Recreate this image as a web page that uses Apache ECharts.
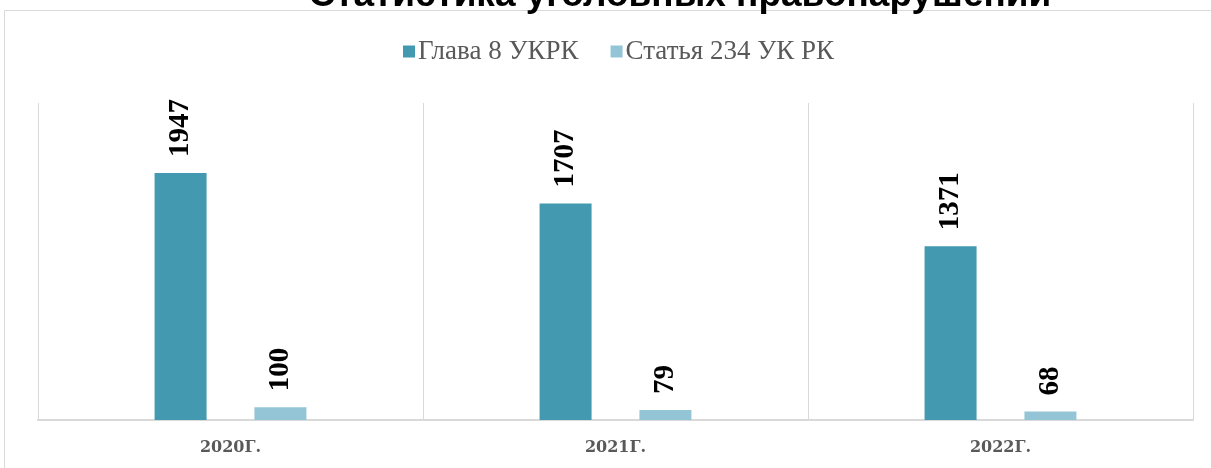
<!DOCTYPE html>
<html><head><meta charset="utf-8">
<script src="https://cdn.jsdelivr.net/npm/echarts@6/dist/echarts.min.js"></script>
<style>html,body{margin:0;padding:0;background:#fff}#c{width:1211px;height:468px}</style>
</head><body><div id="c"></div>
<script>
const titleText = "Статистика уголовных правонарушений";
const categories = ["2020Г.", "2021Г.", "2022Г."];
const seriesNames = ["Глава 8 УКРК", "Статья 234 УК РК"];
const glava8 = [1947, 1707, 1371];
const statya234 = [100, 79, 68];

const chart = echarts.init(document.getElementById('c'));
const labelStyle = {
  show: true, position: 'top', rotate: 90, distance: 16,
  align: 'left', verticalAlign: 'middle',
  fontFamily: 'Liberation Serif', fontWeight: 'bold', fontSize: 29, color: '#000'
};
chart.setOption({
  animation: false,
  graphic: [
    { type: 'rect', shape: { x: 4.5, y: 10.5, width: 1300, height: 600 },
      style: { fill: 'none', stroke: '#d9d9d9', lineWidth: 1 }, silent: true, z: -1 },
    { type: 'text', x: 680, y: 14,
      style: { text: titleText, fontFamily: 'Liberation Sans', fontWeight: 'bold', fontSize: 37,
               fill: '#000', align: 'center', verticalAlign: 'bottom' } }
  ],
  legend: {
    top: 33, left: 398, itemWidth: 12, itemHeight: 12, itemGap: 32, icon: 'rect',
    textStyle: { fontFamily: 'Liberation Serif', fontSize: 27, color: '#595959', padding: [0,0,0,-2] },
    data: seriesNames
  },
  grid: { left: 38, right: 18, top: 103, bottom: 48 },
  xAxis: {
    type: 'category', data: categories,
    axisLine: { lineStyle: { color: '#d9d9d9', width: 2 } },
    axisTick: { show: false },
    splitLine: { show: true, lineStyle: { color: '#d9d9d9', width: 1 } },
    axisLabel: { margin: 20, fontFamily: 'DejaVu Serif', fontWeight: 'bold', fontSize: 16, color: '#595959' }
  },
  yAxis: { type: 'value', min: 0, max: 2500, show: false, splitLine: { show: false } },
  series: [
    { name: seriesNames[0], type: 'bar', data: glava8, barWidth: 52, barGap: '92%',
      itemStyle: { color: '#4399B0' }, label: labelStyle },
    { name: seriesNames[1], type: 'bar', data: statya234, barWidth: 52,
      itemStyle: { color: '#93C5D7' }, label: labelStyle }
  ]
});
</script></body></html>
